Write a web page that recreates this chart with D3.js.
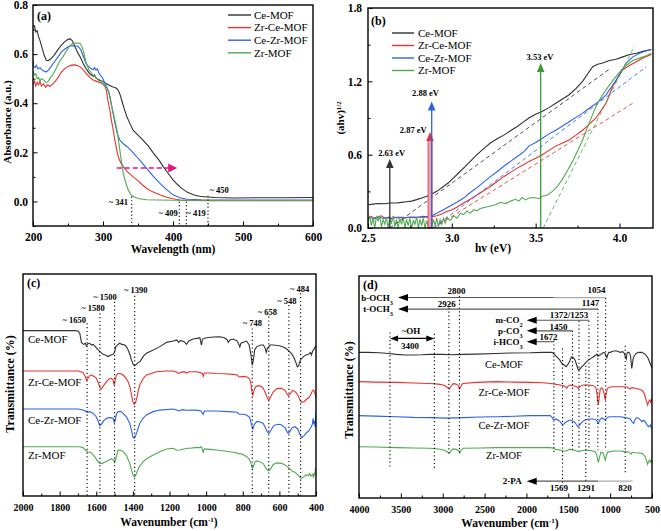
<!DOCTYPE html>
<html><head><meta charset="utf-8">
<script src="https://cdn.jsdelivr.net/npm/d3@7/dist/d3.min.js"></script>
<style>body{margin:0;background:#fff}svg{display:block}text{font-family:"Liberation Serif","Times New Roman",Tinos,serif}</style>
</head><body>
<svg id="chart" width="661" height="531"></svg>
<script>
// ---------------- DATA ----------------
const seriesNames = ['Ce-MOF', 'Zr-Ce-MOF', 'Ce-Zr-MOF', 'Zr-MOF'];
const seriesColors = ['#303030', '#e8322e', '#2b63e8', '#4faa4f'];

// (a) UV-vis absorbance: [wavelength nm, absorbance]
const uvCe = [[200,0.71],[202,0.715],[204,0.69],[206,0.695],[208,0.67],[210,0.655],[213,0.625],[216,0.595],[219,0.575],[222,0.573],[225,0.58],[230,0.595],[235,0.615],[240,0.635],[245,0.65],[250,0.66],[253,0.662],[256,0.655],[260,0.63],[264,0.605],[268,0.585],[272,0.56],[276,0.54],[281,0.52],[286,0.51],[288,0.515],[290,0.502],[295,0.495],[300,0.488],[305,0.479],[310,0.472],[314,0.466],[317,0.465],[320,0.458],[322,0.452],[325,0.43],[327,0.41],[330,0.38],[334,0.346],[338,0.32],[343,0.29],[350,0.27],[357,0.25],[365,0.225],[372,0.197],[380,0.168],[386,0.142],[393,0.115],[400,0.088],[406,0.07],[412,0.054],[420,0.038],[429,0.027],[438,0.021],[448,0.018],[460,0.016],[486,0.014],[520,0.015],[560,0.015],[600,0.016]];
const uvZrCe = [[200,0.475],[202,0.49],[204,0.47],[206,0.485],[208,0.475],[210,0.49],[212,0.47],[215,0.48],[218,0.465],[221,0.475],[224,0.468],[228,0.478],[232,0.49],[236,0.505],[240,0.525],[245,0.54],[250,0.55],[255,0.555],[260,0.556],[265,0.552],[270,0.542],[275,0.525],[281,0.505],[286,0.495],[290,0.49],[295,0.484],[300,0.478],[303,0.468],[305,0.45],[307,0.41],[310,0.37],[312,0.33],[315,0.285],[317,0.25],[320,0.205],[322,0.18],[325,0.16],[329,0.142],[335,0.12],[343,0.10],[350,0.085],[356,0.068],[362,0.054],[370,0.04],[381,0.027],[390,0.018],[400,0.011],[410,0.006],[420,0.004],[450,0.003],[500,0.003],[600,0.003]];
const uvCeZr = [[200,0.575],[201,0.55],[203,0.545],[205,0.555],[207,0.54],[210,0.545],[213,0.535],[216,0.53],[219,0.528],[222,0.535],[226,0.55],[231,0.57],[236,0.59],[241,0.61],[246,0.622],[252,0.633],[258,0.634],[264,0.632],[268,0.62],[272,0.59],[276,0.56],[281,0.545],[286,0.536],[288,0.545],[290,0.535],[292,0.54],[295,0.518],[299,0.505],[303,0.48],[307,0.455],[310,0.427],[313,0.38],[317,0.32],[320,0.28],[324,0.25],[329,0.235],[334,0.224],[341,0.205],[348,0.183],[355,0.16],[362,0.136],[371,0.105],[381,0.075],[390,0.05],[400,0.027],[410,0.015],[420,0.009],[440,0.007],[500,0.006],[600,0.006]];
const uvZr = [[200,0.53],[202,0.515],[204,0.52],[206,0.50],[208,0.505],[210,0.49],[212,0.50],[215,0.495],[219,0.484],[222,0.49],[225,0.505],[228,0.515],[232,0.535],[236,0.56],[240,0.58],[243,0.59],[248,0.615],[253,0.635],[257,0.644],[262,0.645],[267,0.644],[270,0.63],[273,0.6],[276,0.563],[280,0.535],[286,0.515],[290,0.505],[295,0.488],[300,0.48],[305,0.468],[308,0.45],[310,0.42],[313,0.38],[317,0.33],[320,0.29],[324,0.21],[327,0.15],[329,0.115],[332,0.08],[336,0.047],[340,0.028],[343,0.02],[350,0.012],[362,0.007],[400,0.005],[500,0.004],[600,0.004]];
const uvEdges = [341, 409, 419, 450];
const uvXTicks = [200, 300, 400, 500, 600];
const uvYTicks = [0.0, 0.2, 0.4, 0.6, 0.8];

// (b) Tauc plot: [hv eV, (ahv)^1/2]
const tcCe = [[2.50,0.19],[2.53,0.195],[2.56,0.20],[2.60,0.198],[2.63,0.205],[2.67,0.205],[2.70,0.21],[2.73,0.215],[2.76,0.22],[2.79,0.232],[2.83,0.25],[2.87,0.27],[2.91,0.30],[2.95,0.34],[2.98,0.37],[3.01,0.41],[3.04,0.45],[3.07,0.49],[3.11,0.545],[3.15,0.60],[3.19,0.65],[3.23,0.695],[3.27,0.73],[3.31,0.76],[3.35,0.795],[3.39,0.83],[3.43,0.87],[3.46,0.90],[3.50,0.93],[3.54,0.955],[3.58,0.985],[3.62,1.02],[3.66,1.055],[3.70,1.09],[3.74,1.14],[3.78,1.2],[3.81,1.26],[3.84,1.32],[3.87,1.34],[3.90,1.35],[3.94,1.37],[3.98,1.38],[4.02,1.40],[4.06,1.42],[4.10,1.43],[4.14,1.445],[4.19,1.46]];
const tcZrCe = [[2.50,0.08],[2.52,0.095],[2.54,0.075],[2.56,0.09],[2.58,0.10],[2.60,0.08],[2.62,0.09],[2.64,0.075],[2.66,0.09],[2.68,0.08],[2.70,0.09],[2.72,0.082],[2.75,0.088],[2.78,0.085],[2.81,0.09],[2.84,0.088],[2.87,0.09],[2.89,0.095],[2.91,0.10],[2.94,0.115],[2.97,0.135],[3.00,0.15],[3.03,0.17],[3.07,0.205],[3.11,0.235],[3.15,0.27],[3.19,0.305],[3.23,0.34],[3.27,0.38],[3.31,0.42],[3.35,0.455],[3.39,0.49],[3.43,0.52],[3.46,0.545],[3.50,0.57],[3.54,0.60],[3.58,0.635],[3.62,0.67],[3.66,0.695],[3.70,0.72],[3.74,0.76],[3.78,0.80],[3.82,0.85],[3.86,0.90],[3.89,0.96],[3.92,1.02],[3.94,1.09],[3.96,1.16],[3.99,1.23],[4.02,1.295],[4.06,1.33],[4.10,1.36],[4.14,1.39],[4.19,1.42]];
const tcCeZr = [[2.50,0.085],[2.53,0.08],[2.56,0.09],[2.59,0.08],[2.62,0.085],[2.65,0.08],[2.68,0.09],[2.71,0.082],[2.74,0.088],[2.77,0.09],[2.80,0.088],[2.83,0.095],[2.86,0.092],[2.88,0.10],[2.91,0.12],[2.95,0.15],[2.99,0.18],[3.03,0.21],[3.07,0.245],[3.11,0.29],[3.15,0.33],[3.19,0.375],[3.23,0.42],[3.27,0.46],[3.31,0.505],[3.35,0.545],[3.39,0.585],[3.43,0.625],[3.46,0.67],[3.50,0.70],[3.54,0.735],[3.58,0.77],[3.62,0.80],[3.66,0.835],[3.70,0.87],[3.74,0.905],[3.78,0.94],[3.82,0.98],[3.86,1.02],[3.89,1.05],[3.92,1.09],[3.95,1.15],[3.98,1.21],[4.01,1.28],[4.04,1.35],[4.08,1.40],[4.12,1.43],[4.16,1.45],[4.19,1.46]];
const tcZr = [[2.50,0.05],[2.51,0.10],[2.52,0.02],[2.53,0.08],[2.54,0.0],[2.55,0.09],[2.56,0.06],[2.57,0.10],[2.58,0.01],[2.59,0.07],[2.60,0.03],[2.61,0.09],[2.62,0.0],[2.63,0.08],[2.64,0.04],[2.65,0.10],[2.66,0.01],[2.67,0.07],[2.68,0.0],[2.69,0.08],[2.70,0.03],[2.71,0.09],[2.72,0.0],[2.73,0.07],[2.74,0.02],[2.75,0.08],[2.76,0.0],[2.77,0.06],[2.78,0.03],[2.79,0.09],[2.80,0.0],[2.81,0.07],[2.82,0.02],[2.83,0.08],[2.84,0.0],[2.85,0.06],[2.86,0.01],[2.87,0.08],[2.88,0.0],[2.89,0.07],[2.90,0.02],[2.91,0.08],[2.92,0.01],[2.93,0.07],[2.94,0.03],[2.95,0.08],[2.96,0.04],[2.97,0.09],[2.99,0.06],[3.01,0.10],[3.03,0.08],[3.05,0.12],[3.07,0.11],[3.09,0.14],[3.11,0.12],[3.13,0.15],[3.15,0.14],[3.17,0.16],[3.20,0.17],[3.23,0.18],[3.26,0.19],[3.29,0.21],[3.32,0.20],[3.35,0.22],[3.38,0.235],[3.40,0.22],[3.42,0.25],[3.44,0.23],[3.46,0.245],[3.49,0.25],[3.52,0.24],[3.54,0.26],[3.57,0.27],[3.60,0.30],[3.63,0.34],[3.66,0.40],[3.69,0.47],[3.72,0.545],[3.75,0.63],[3.78,0.72],[3.80,0.79],[3.82,0.86],[3.84,0.93],[3.86,0.995],[3.89,1.07],[3.92,1.13],[3.95,1.19],[3.98,1.24],[4.01,1.29],[4.04,1.33],[4.08,1.37],[4.12,1.39],[4.16,1.41],[4.19,1.43]];
// tangent (fit) lines: [start, end]
const tcFits = [[[2.63,0],[3.94,1.30]], [[2.89,0],[4.09,1.03]], [[2.89,0],[4.16,1.32]], [[3.545,0],[4.09,1.49]]];
const bandGaps = [2.63, 2.87, 2.88, 3.53];
const bandGapArrowTops = [0.565, 0.785, 1.036, 1.35];
const tcXTicks = [2.5, 3.0, 3.5, 4.0];
const tcYTicks = [0.0, 0.6, 1.2, 1.8];

// (c) FTIR 2000-400 cm-1: [wavenumber, transmittance (a.u., offset)]
const irCe = [[2000,74.5],[1900,74.5],[1800,74.5],[1720,74.5],[1700,74.3],[1690,73.3],[1681,69.2],[1670,68.3],[1660,68.8],[1654,67.7],[1645,68.6],[1636,68.8],[1626,68.0],[1617,68.3],[1605,67.3],[1590,65.8],[1575,64.7],[1563,63.8],[1550,63.5],[1535,62.8],[1520,63.5],[1508,63.8],[1500,64.7],[1493,67.3],[1485,68.0],[1472,68.8],[1460,68.3],[1444,68.0],[1435,67.3],[1426,65.8],[1415,63.5],[1408,61.3],[1398,59.3],[1390,58.7],[1380,59.3],[1370,60.2],[1362,60.5],[1350,62.0],[1340,63.2],[1326,64.3],[1300,65.3],[1271,66.5],[1250,67.4],[1216,69.2],[1180,69.8],[1160,70.3],[1150,69.2],[1140,70.1],[1120,69.5],[1107,68.3],[1095,69.8],[1071,70.7],[1050,71.0],[1034,71.3],[1028,68.8],[1025,68.0],[1020,70.7],[998,71.3],[960,71.6],[925,71.7],[900,71.3],[885,70.3],[879,69.2],[870,70.3],[852,70.7],[830,69.8],[820,68.0],[816,67.1],[810,68.8],[790,69.5],[779,69.8],[765,68.0],[755,63.5],[748,59.0],[742,61.3],[735,65.8],[724,67.3],[700,68.0],[688,68.0],[678,66.8],[672,64.7],[665,66.5],[650,68.0],[633,68.0],[600,67.7],[579,67.1],[560,66.2],[545,65.0],[533,64.1],[520,62.3],[510,60.2],[502,58.2],[495,58.7],[485,61.3],[469,62.8],[455,63.5],[442,63.8],[430,64.7],[425,63.5],[418,65.3],[414,65.8],[408,66.5],[404,67.3],[400,66.8]];
const irZrCe = [[2000,56.3],[1800,56.3],[1700,56.3],[1685,56.0],[1672,55.7],[1660,53.7],[1654,52.2],[1645,53.0],[1635,54.2],[1626,54.5],[1610,53.7],[1599,53.0],[1590,51.2],[1580,48.8],[1572,48.2],[1560,49.7],[1544,51.5],[1530,52.7],[1517,53.0],[1508,52.2],[1503,50.0],[1498,51.5],[1490,54.5],[1481,55.2],[1465,55.1],[1453,54.5],[1440,53.3],[1426,51.5],[1415,48.8],[1408,45.5],[1400,42.5],[1393,41.3],[1385,42.2],[1377,44.7],[1370,47.7],[1362,50.0],[1345,52.7],[1326,54.5],[1300,55.2],[1271,56.0],[1216,56.3],[1180,56.3],[1160,55.7],[1150,55.1],[1140,55.7],[1120,56.0],[1107,55.4],[1095,56.0],[1060,56.0],[1034,55.7],[1020,55.1],[1016,53.9],[1010,55.4],[980,55.4],[943,55.2],[900,55.1],[852,54.8],[830,54.5],[820,53.6],[800,53.9],[779,53.7],[765,53.0],[757,51.5],[750,47.0],[745,45.5],[738,47.7],[730,49.2],[715,49.7],[700,49.4],[688,48.5],[675,46.2],[665,43.9],[658,43.2],[650,44.3],[635,46.7],[624,47.7],[610,48.5],[588,48.5],[570,47.6],[560,46.2],[552,45.2],[543,45.8],[533,47.0],[524,47.6],[510,46.7],[497,45.2],[488,43.2],[478,42.2],[465,42.5],[450,43.8],[442,44.0],[430,45.5],[420,47.3],[414,47.7],[408,47.0],[404,45.5],[400,44.0]];
const irCeZr = [[2000,39.2],[1800,39.2],[1700,39.2],[1685,39.0],[1672,38.7],[1660,38.3],[1650,37.7],[1635,38.0],[1617,37.2],[1600,35.7],[1590,33.8],[1581,31.7],[1572,32.3],[1560,33.8],[1544,35.0],[1525,35.3],[1508,35.0],[1502,33.2],[1497,33.8],[1490,36.8],[1481,38.0],[1465,38.0],[1453,37.2],[1435,35.7],[1417,32.7],[1408,29.7],[1400,26.7],[1393,26.0],[1385,27.2],[1380,28.2],[1370,30.8],[1362,32.7],[1345,35.0],[1326,36.5],[1290,38.0],[1253,38.7],[1180,39.2],[1160,38.7],[1150,38.3],[1130,38.9],[1107,38.6],[1060,38.7],[1030,38.4],[1020,37.2],[1016,36.8],[1010,38.3],[943,38.3],[880,38.0],[830,37.7],[820,36.8],[800,36.8],[779,36.5],[762,35.3],[752,32.0],[745,30.2],[738,32.0],[725,33.5],[715,33.5],[700,33.2],[688,32.7],[675,30.5],[665,28.7],[658,28.1],[648,29.3],[635,31.2],[624,32.0],[600,32.3],[588,32.0],[570,30.8],[558,29.0],[552,28.2],[543,29.0],[530,30.8],[515,31.2],[500,30.2],[488,27.8],[478,26.3],[465,27.2],[450,28.7],[442,29.0],[430,30.5],[420,32.3],[416,35.0],[412,32.3],[408,33.8],[405,31.2],[402,35.7],[400,38.0]];
const irZr = [[2000,22.2],[1900,22.2],[1800,22.2],[1700,22.2],[1685,22.1],[1672,21.8],[1660,20.7],[1645,19.7],[1630,19.7],[1617,18.5],[1600,16.7],[1590,15.5],[1581,14.7],[1570,14.6],[1555,15.2],[1544,15.5],[1530,16.2],[1517,16.7],[1505,16.1],[1499,15.2],[1493,16.9],[1481,20.7],[1465,20.6],[1453,20.0],[1435,18.2],[1417,14.7],[1405,11.0],[1398,9.2],[1390,8.6],[1382,9.8],[1377,11.0],[1365,13.2],[1344,15.5],[1320,17.0],[1289,18.5],[1250,20.0],[1216,21.2],[1180,21.5],[1160,20.6],[1144,20.7],[1120,21.2],[1100,21.5],[1089,21.5],[1060,21.8],[1034,21.8],[1025,22.2],[1020,20.6],[1016,19.7],[1010,21.2],[980,21.0],[943,20.7],[900,20.3],[852,19.7],[820,19.1],[800,18.8],[779,17.7],[765,16.7],[755,14.7],[748,12.5],[742,13.2],[735,15.2],[725,15.8],[715,15.5],[700,15.2],[688,14.6],[675,12.8],[665,11.6],[658,11.3],[648,12.2],[635,14.0],[624,14.6],[610,14.9],[588,14.7],[570,14.0],[555,13.1],[543,12.2],[530,11.3],[515,10.7],[506,10.1],[495,9.2],[488,8.3],[478,7.95],[468,8.6],[455,9.5],[442,9.2],[435,10.1],[428,8.9],[420,9.8],[414,8.6],[410,10.4],[406,9.2],[403,12.5],[400,11.3]];
const irPeaks = [1650, 1580, 1500, 1390, 748, 658, 548, 484];
const irXTicks = [2000, 1800, 1600, 1400, 1200, 1000, 800, 600, 400];

// (d) FTIR after adsorption 4000-500 cm-1
const adCe = [[4000,65.6],[3900,65.6],[3753,65.4],[3650,65.1],[3553,64.7],[3450,64.4],[3353,64.4],[3250,64.5],[3154,64.7],[3000,64.7],[2900,64.5],[2755,64.7],[2600,64.8],[2356,65.1],[2200,65.3],[1957,65.4],[1800,65.6],[1697,65.6],[1670,64.9],[1637,63.6],[1600,62.1],[1577,60.6],[1550,59.9],[1526,59.1],[1505,60.2],[1486,61.4],[1470,62.9],[1458,63.6],[1440,63.2],[1418,62.1],[1400,59.9],[1385,58.1],[1378,57.6],[1360,58.1],[1340,59.1],[1318,59.9],[1290,61.1],[1258,62.1],[1230,62.9],[1198,63.6],[1170,64.4],[1158,64.7],[1145,63.8],[1130,64.4],[1118,64.4],[1100,65.0],[1079,65.6],[1065,65.3],[1050,64.1],[1039,63.2],[1030,64.4],[1015,65.6],[999,65.6],[960,66.2],[919,66.2],[880,65.6],[850,65.9],[830,65.1],[815,63.2],[807,62.6],[800,65.1],[790,65.6],[779,65.6],[765,65.1],[755,63.6],[748,60.6],[742,58.4],[735,59.9],[725,62.9],[711,64.1],[690,65.1],[660,65.6],[620,65.6],[580,64.7],[550,63.2],[530,61.4],[515,59.9],[505,59.1],[500,58.4]];
const adZrCe = [[4000,52.4],[3800,52.2],[3553,52.1],[3350,51.8],[3154,51.6],[3050,51.3],[2994,50.9],[2960,50.3],[2935,49.4],[2922,49.1],[2905,50.1],[2875,51.5],[2840,51.3],[2815,50.6],[2800,49.1],[2790,49.7],[2770,51.2],[2755,51.6],[2600,52.1],[2356,52.4],[2150,52.2],[1957,52.1],[1800,51.9],[1717,51.6],[1660,51.3],[1600,50.9],[1558,50.6],[1530,50.0],[1518,49.4],[1505,50.3],[1478,50.9],[1440,50.6],[1400,50.1],[1378,49.4],[1360,50.3],[1318,50.9],[1260,50.9],[1198,50.6],[1170,49.7],[1158,47.1],[1150,44.1],[1140,42.2],[1130,45.6],[1118,49.1],[1100,49.7],[1087,49.1],[1070,46.7],[1059,44.1],[1048,47.1],[1031,49.4],[1000,50.0],[959,50.1],[900,50.1],[839,50.1],[800,50.0],[760,49.1],[739,49.7],[700,49.4],[660,49.1],[620,48.6],[600,47.6],[580,45.6],[565,43.4],[552,41.9],[540,43.4],[528,44.1],[515,43.1],[505,44.9],[500,43.4]];
const adCeZr = [[4000,37.1],[3800,36.9],[3553,36.6],[3350,36.3],[3154,36.2],[2950,36.0],[2755,36.2],[2550,36.5],[2356,36.6],[2150,36.8],[1957,37.1],[1800,37.1],[1717,37.1],[1690,36.2],[1677,35.1],[1650,35.6],[1620,35.0],[1597,34.4],[1575,33.2],[1558,33.2],[1530,34.1],[1505,34.7],[1478,35.1],[1450,34.7],[1420,34.1],[1400,32.9],[1385,32.1],[1370,32.6],[1350,33.6],[1320,34.7],[1298,35.1],[1250,35.6],[1198,35.6],[1165,35.1],[1150,34.1],[1140,33.6],[1125,35.1],[1098,36.2],[1075,35.6],[1059,35.1],[1045,35.9],[1020,36.5],[999,36.6],[940,36.6],[879,36.6],[820,36.2],[780,35.9],[759,35.6],[740,34.4],[719,33.6],[700,35.6],[680,36.2],[650,35.6],[620,34.4],[600,35.0],[580,34.4],[560,32.9],[540,32.1],[520,32.9],[510,31.7],[500,31.4]];
const adZr = [[4000,23.1],[3800,23.0],[3553,22.7],[3350,22.5],[3154,22.4],[3050,22.1],[2994,21.6],[2950,20.9],[2922,20.1],[2900,21.2],[2875,22.1],[2840,21.9],[2810,21.2],[2795,20.4],[2780,21.5],[2755,22.4],[2550,22.5],[2356,22.7],[2150,22.7],[1957,22.7],[1800,22.7],[1717,22.7],[1680,22.4],[1650,21.9],[1597,21.6],[1560,21.2],[1518,21.2],[1490,21.9],[1478,21.9],[1440,21.6],[1400,21.2],[1378,20.9],[1340,21.3],[1278,21.6],[1220,21.3],[1178,20.9],[1160,19.4],[1148,17.1],[1140,16.1],[1128,18.2],[1110,20.6],[1087,20.4],[1070,18.6],[1059,17.1],[1045,19.1],[1031,20.6],[1000,20.9],[950,21.2],[879,21.2],[820,20.9],[780,20.7],[760,20.1],[745,19.8],[739,20.6],[700,20.4],[660,20.3],[620,20.1],[600,19.4],[580,18.6],[565,16.7],[552,15.2],[540,16.4],[528,17.1],[515,16.1],[505,17.1],[500,16.4]];
const adXTicks = [4000, 3500, 3000, 2500, 2000, 1500, 1000, 500];
// band assignment lines: [wavenumber, top, bottom]
const adBands = [[3630,74.6,13.3],[3100,74.0,12.6],[2926,87.4,19.3],[2800,91.0,20.2],[1672,70.9,20.2],[1569,67.3,6.7],[1450,75.3,21.5],[1372,79.8,21.5],[1291,59.6,7.2],[1253,79.8,21.5],[1147,85.2,21.5],[1054,90.1,21.5],[820,68.6,11.2]];

// ---------------- DRAW ----------------
const svg = d3.select('#chart');
const defs = svg.append('defs');
const FONT = '"Liberation Serif","Times New Roman",Tinos,serif';

function tri(g, pts, color) {
  g.append('path').attr('d', d3.line()(pts) + 'Z').attr('fill', color).attr('stroke', 'none');
}
function arrowHead(g, x0, y0, dir, len, half, color) {
  if (dir === 'up') tri(g, [[x0, y0], [x0 - half, y0 + len], [x0 + half, y0 + len]], color);
  else if (dir === 'left') tri(g, [[x0, y0], [x0 + len, y0 - half], [x0 + len, y0 + half]], color);
  else tri(g, [[x0, y0], [x0 - len, y0 - half], [x0 - len, y0 + half]], color);
}

function makePanel(o) {
  const x = d3.scaleLinear().domain(o.xd).range([o.l, o.r]);
  const y = d3.scaleLinear().domain(o.yd).range([o.b, o.t]);
  const g = svg.append('g');
  const cid = 'clip-' + o.id;
  defs.append('clipPath').attr('id', cid).append('rect')
    .attr('x', o.l).attr('y', o.t).attr('width', o.r - o.l).attr('height', o.b - o.t);
  const style = s => {
    s.select('.domain').remove();
    s.selectAll('line').attr('stroke', '#000').attr('stroke-width', 1);
    s.selectAll('text').style('font-family', FONT).attr('font-weight', 'bold')
      .attr('font-size', o.tickFont).attr('fill', '#000');
  };
  g.append('g').attr('transform', `translate(0,${o.b})`)
    .call(d3.axisBottom(x).tickValues(o.xMinor).tickSize(-2.5).tickFormat(''))
    .call(style);
  g.append('g').attr('transform', `translate(0,${o.b})`)
    .call(d3.axisBottom(x).tickValues(o.xTicks).tickSizeInner(-4.5).tickSizeOuter(0)
      .tickPadding(o.xPad).tickFormat(o.xFmt))
    .call(style);
  if (o.yTicks) {
    g.append('g').attr('transform', `translate(${o.l},0)`)
      .call(d3.axisLeft(y).tickValues(o.yMinor).tickSize(-2.5).tickFormat(''))
      .call(style);
    g.append('g').attr('transform', `translate(${o.l},0)`)
      .call(d3.axisLeft(y).tickValues(o.yTicks).tickSizeInner(-4.5).tickSizeOuter(0)
        .tickPadding(o.yPad).tickFormat(o.yFmt))
      .call(style);
  }
  const plot = g.append('g').attr('clip-path', `url(#${cid})`);
  const frame = () => g.append('rect').attr('x', o.l).attr('y', o.t)
    .attr('width', o.r - o.l).attr('height', o.b - o.t)
    .attr('fill', 'none').attr('stroke', '#000').attr('stroke-width', 1.4);
  g.append('text').attr('x', o.l + o.letterDx).attr('y', o.t + o.letterDy).text(o.letter)
    .style('font-family', FONT).attr('font-weight', 'bold').attr('font-size', 12);
  return { x, y, g, plot, frame };
}

function addParts(t, parts, size) {
  parts.forEach(p => {
    const ts = t.append('tspan').text(p.t);
    if (p.sup) ts.attr('baseline-shift', 'super').attr('font-size', size * 0.62);
    if (p.sub) ts.attr('baseline-shift', 'sub').attr('font-size', size * 0.7);
  });
}
function axisTitleX(g, cx, by, parts, size) {
  const t = g.append('text').attr('x', cx).attr('y', by).attr('text-anchor', 'middle')
    .style('font-family', FONT).attr('font-weight', 'bold').attr('font-size', size);
  addParts(t, parts, size);
}
function axisTitleY(g, cx, cy, parts, size) {
  const t = g.append('text').attr('transform', `translate(${cx},${cy}) rotate(-90)`)
    .attr('text-anchor', 'middle').attr('dy', '0.35em')
    .style('font-family', FONT).attr('font-weight', 'bold').attr('font-size', size);
  addParts(t, parts, size);
}
function label(g, x, y, txt, opt) {
  opt = opt || {};
  const size = opt.size || 9;
  const t = g.append('text').attr('x', x).attr('y', y).attr('dy', '0.35em')
    .attr('text-anchor', opt.anchor || 'middle')
    .style('font-family', FONT).attr('font-weight', opt.weight || 'bold')
    .attr('font-size', size).attr('fill', opt.fill || '#000');
  if (Array.isArray(txt)) addParts(t, txt, size); else t.text(txt);
  return t;
}
const lineGen = (x, y) => d3.line().x(d => x(d[0])).y(d => y(d[1]));

// ===== Panel (a) =====
{
  const P = makePanel({ id: 'a', l: 33, r: 313, t: 5, b: 226, xd: [200, 600], yd: [-0.1, 0.8],
    xTicks: uvXTicks, xMinor: [250, 350, 450, 550], xFmt: d3.format('d'), xPad: 7,
    yTicks: uvYTicks, yMinor: [-0.1, 0.1, 0.3, 0.5, 0.7], yFmt: d3.format('.1f'), yPad: 5,
    tickFont: 11.5, letter: '(a)', letterDx: 4, letterDy: 15 });
  const { x, y, plot, g } = P;
  [uvCe, uvZrCe, uvCeZr, uvZr].forEach((s, i) => {
    plot.append('path').datum(s).attr('d', lineGen(x, y)).attr('fill', 'none')
      .attr('stroke', seriesColors[i]).attr('stroke-width', 1.1);
  });
  const edgeTops = [0.02, 0.0, 0.0, 0.023];
  uvEdges.forEach((e, i) => {
    g.append('line').attr('x1', x(e)).attr('x2', x(e)).attr('y1', y(edgeTops[i])).attr('y2', y(-0.1))
      .attr('stroke', '#000').attr('stroke-width', 1.1).attr('stroke-dasharray', '1.2,2.4');
  });
  label(g, x(322), y(-0.004), '~ 341', { size: 8.5 });
  label(g, x(393), y(-0.047), '~ 409', { size: 8.5 });
  label(g, x(433), y(-0.047), '~ 419', { size: 8.5 });
  label(g, x(466), y(0.048), '~ 450', { size: 8.5 });
  // pink dashed arrow
  g.append('line').attr('x1', x(319.6)).attr('x2', x(399)).attr('y1', y(0.136)).attr('y2', y(0.136))
    .attr('stroke', '#e4157f').attr('stroke-width', 1.5).attr('stroke-dasharray', '5,3');
  arrowHead(g, x(406), y(0.136), 'right', 9, 4.5, '#e4157f');
  const lg = g.append('g');
  seriesNames.forEach((n, i) => {
    const ly = 15 + i * 12.6;
    lg.append('line').attr('x1', 228).attr('x2', 251).attr('y1', ly).attr('y2', ly)
      .attr('stroke', seriesColors[i]).attr('stroke-width', 1.4);
    label(lg, 254, ly, n, { anchor: 'start', size: 11, weight: 'normal' });
  });
  axisTitleX(g, 173, 253, [{ t: 'Wavelength (nm)' }], 11.5);
  axisTitleY(g, 7, 122, [{ t: 'Absorbance (a.u.)' }], 11);
  P.frame();
}

// ===== Panel (b) =====
{
  const P = makePanel({ id: 'b', l: 368, r: 653, t: 8, b: 228, xd: [2.5, 4.2], yd: [0, 1.8],
    xTicks: tcXTicks, xMinor: [2.75, 3.25, 3.75], xFmt: d3.format('.1f'), xPad: 6,
    yTicks: tcYTicks, yMinor: [0.3, 0.9, 1.5], yFmt: d3.format('.1f'), yPad: 6,
    tickFont: 11.5, letter: '(b)', letterDx: 3, letterDy: 17 });
  const { x, y, plot, g } = P;
  [tcCe, tcZrCe, tcCeZr, tcZr].forEach((s, i) => {
    plot.append('path').datum(s).attr('d', lineGen(x, y)).attr('fill', 'none')
      .attr('stroke', seriesColors[i]).attr('stroke-width', 1.1);
  });
  tcFits.forEach((f, i) => {
    plot.append('path').datum(f).attr('d', lineGen(x, y)).attr('fill', 'none')
      .attr('stroke', seriesColors[i]).attr('stroke-width', 1).attr('stroke-dasharray', '4,3')
      .attr('opacity', 0.85);
  });
  const arrowColors = ['#333333', '#e8322e', '#2b63e8', '#3f9a3f'];
  bandGaps.forEach((bg, i) => {
    const tipY = y(bandGapArrowTops[i]);
    if (i === 1) {
      g.append('rect').attr('x', x(bg) - 2).attr('y', tipY + 8).attr('width', 4).attr('height', y(0) - tipY - 8)
        .attr('fill', '#f3a0a8').attr('stroke', '#e8322e').attr('stroke-width', 0.8);
    } else {
      g.append('line').attr('x1', x(bg)).attr('x2', x(bg)).attr('y1', y(0)).attr('y2', tipY + 8)
        .attr('stroke', arrowColors[i]).attr('stroke-width', 1.3);
    }
    arrowHead(g, x(bg), tipY, 'up', 9, 3.8, arrowColors[i]);
  });
  label(g, x(2.641), y(0.616), '2.63 eV', { size: 8.5 });
  label(g, x(2.77), y(0.80), '2.87 eV', { size: 8.5 });
  label(g, x(2.843), y(1.107), '2.88 eV', { size: 8.5 });
  label(g, x(3.526), y(1.402), '3.53 eV', { size: 8.5 });
  const lg = g.append('g');
  seriesNames.forEach((n, i) => {
    const ly = 33 + i * 12.5;
    lg.append('line').attr('x1', 392).attr('x2', 414).attr('y1', ly).attr('y2', ly)
      .attr('stroke', seriesColors[i]).attr('stroke-width', 1.4);
    label(lg, 418, ly, n, { anchor: 'start', size: 11, weight: 'normal' });
  });
  axisTitleX(g, 493, 252, [{ t: 'hv (eV)' }], 11.5);
  axisTitleY(g, 340, 118, [{ t: '(ahv)' }, { t: '1/2', sup: true }], 11);
  P.frame();
}

// ===== Panel (c) =====
{
  const P = makePanel({ id: 'c', l: 23, r: 316, t: 274, b: 496, xd: [2000, 400], yd: [0, 100],
    xTicks: irXTicks, xMinor: [1900, 1700, 1500, 1300, 1100, 900, 700, 500], xFmt: d3.format('d'), xPad: 8,
    tickFont: 10, letter: '(c)', letterDx: 4, letterDy: 13 });
  const { x, y, plot, g } = P;
  [irCe, irZrCe, irCeZr, irZr].forEach((s, i) => {
    plot.append('path').datum(s).attr('d', lineGen(x, y)).attr('fill', 'none')
      .attr('stroke', seriesColors[i]).attr('stroke-width', 1.1);
  });
  const peakTops = [77.8, 82.3, 87.5, 90.2, 75.5, 80.8, 86.0, 91.3];
  irPeaks.forEach((p, i) => {
    g.append('line').attr('x1', x(p)).attr('x2', x(p)).attr('y1', y(peakTops[i])).attr('y2', y(0))
      .attr('stroke', '#000').attr('stroke-width', 1.1).attr('stroke-dasharray', '1.2,2.6');
  });
  const peakLabelPos = [[1720, 79.3], [1618, 84.5], [1552, 89.8], [1384, 92.8], [747, 77.8], [665, 83.0], [559, 87.8], [489, 93.2]];
  irPeaks.forEach((p, i) => label(g, x(peakLabelPos[i][0]), y(peakLabelPos[i][1]), '~ ' + p, { size: 8.5 }));
  const nameY = [70.7, 51.5, 34.2, 18.2];
  seriesNames.forEach((n, i) => label(g, x(1973), y(nameY[i]), n, { anchor: 'start', size: 11, weight: 'normal' }));
  axisTitleX(g, 169, 526, [{ t: 'Wavenumber (cm' }, { t: '-1', sup: true }, { t: ')' }], 11.5);
  axisTitleY(g, 10, 384, [{ t: 'Transmittance (%)' }], 12);
  P.frame();
}

// ===== Panel (d) =====
{
  const P = makePanel({ id: 'd', l: 359, r: 652, t: 276, b: 498, xd: [4000, 500], yd: [0, 100],
    xTicks: adXTicks, xMinor: [3750, 3250, 2750, 2250, 1750, 1250, 750], xFmt: d3.format('d'), xPad: 8,
    tickFont: 10, letter: '(d)', letterDx: 4, letterDy: 13 });
  const { x, y, plot, g } = P;
  [adCe, adZrCe, adCeZr, adZr].forEach((s, i) => {
    plot.append('path').datum(s).attr('d', lineGen(x, y)).attr('fill', 'none')
      .attr('stroke', seriesColors[i]).attr('stroke-width', 1.1);
  });
  adBands.forEach(b => {
    g.append('line').attr('x1', x(b[0])).attr('x2', x(b[0])).attr('y1', y(b[1])).attr('y2', y(b[2]))
      .attr('stroke', '#000').attr('stroke-width', 1.1).attr('stroke-dasharray', '1.2,2.6');
  });
  // assignment arrows: [from wavenumber, tip wavenumber, level, wavenumber where the line turns light]
  const assign = [[1054, 3534, 90.3, 1672], [1147, 3534, 85.1, 1147], [1253, 1997, 80.1, 1253], [1450, 1997, 75.3, 1450], [1672, 1997, 70.4, 1672], [731, 1997, 7.6, 1147]];
  assign.forEach(a => {
    g.append('line').attr('x1', x(a[3])).attr('x2', x(a[1]) + 6).attr('y1', y(a[2])).attr('y2', y(a[2]))
      .attr('stroke', '#555').attr('stroke-width', 1.1);
    if (a[3] !== a[0]) g.append('line').attr('x1', x(a[0])).attr('x2', x(a[3])).attr('y1', y(a[2])).attr('y2', y(a[2]))
      .attr('stroke', '#aaa').attr('stroke-width', 1.3);
    arrowHead(g, x(a[1]), y(a[2]), 'left', 10, 3.5, '#000');
  });
  const ohY = y(71.9);
  g.append('line').attr('x1', x(3630) + 6).attr('x2', x(3100) - 6).attr('y1', ohY).attr('y2', ohY)
    .attr('stroke', '#000').attr('stroke-width', 1.1);
  arrowHead(g, x(3630), ohY, 'left', 8, 3, '#000');
  arrowHead(g, x(3100), ohY, 'right', 8, 3, '#000');
  label(g, x(3379), y(75.3), '~OH', { size: 9 });
  label(g, x(3391), y(68.6), '3400', { size: 9 });
  label(g, x(3594), y(90.3), [{ t: 'b-OCH' }, { t: '3', sub: true }], { anchor: 'end', size: 9 });
  label(g, x(3594), y(85.1), [{ t: 't-OCH' }, { t: '3', sub: true }], { anchor: 'end', size: 9 });
  label(g, x(2045), y(80.1), [{ t: 'm-CO' }, { t: '2', sub: true }], { anchor: 'end', size: 9 });
  label(g, x(2045), y(75.3), [{ t: 'p-CO' }, { t: '3', sub: true }], { anchor: 'end', size: 9 });
  label(g, x(2045), y(70.4), [{ t: 'i-HCO' }, { t: '3', sub: true }], { anchor: 'end', size: 9 });
  label(g, x(2057), y(7.6), '2-PA', { anchor: 'end', size: 9 });
  label(g, x(2835), y(93.3), '2800', { size: 9 });
  label(g, x(1163), y(93.7), '1054', { size: 9 });
  label(g, x(2952), y(87.6), '2926', { size: 9 });
  label(g, x(1235), y(88.0), '1147', { size: 9 });
  label(g, x(1492), y(82.5), '1372/1253', { size: 9 });
  label(g, x(1617), y(77.3), '1450', { size: 9 });
  label(g, x(1736), y(72.6), '1672', { size: 9 });
  label(g, x(1611), y(4.5), '1569', { size: 9 });
  label(g, x(1289), y(4.5), '1291', { size: 9 });
  label(g, x(823), y(4.5), '820', { size: 9 });
  const nameY = [60.1, 47.5, 32.7, 19.3];
  seriesNames.forEach((n, i) => label(g, x(2268), y(nameY[i]), n, { size: 10.5, weight: 'normal' }));
  axisTitleX(g, 510, 527, [{ t: 'Wavenumber (cm' }, { t: '-1', sup: true }, { t: ')' }], 11.5);
  axisTitleY(g, 349, 390, [{ t: 'Transmittance (%)' }], 12);
  P.frame();
}
</script>
</body></html>
